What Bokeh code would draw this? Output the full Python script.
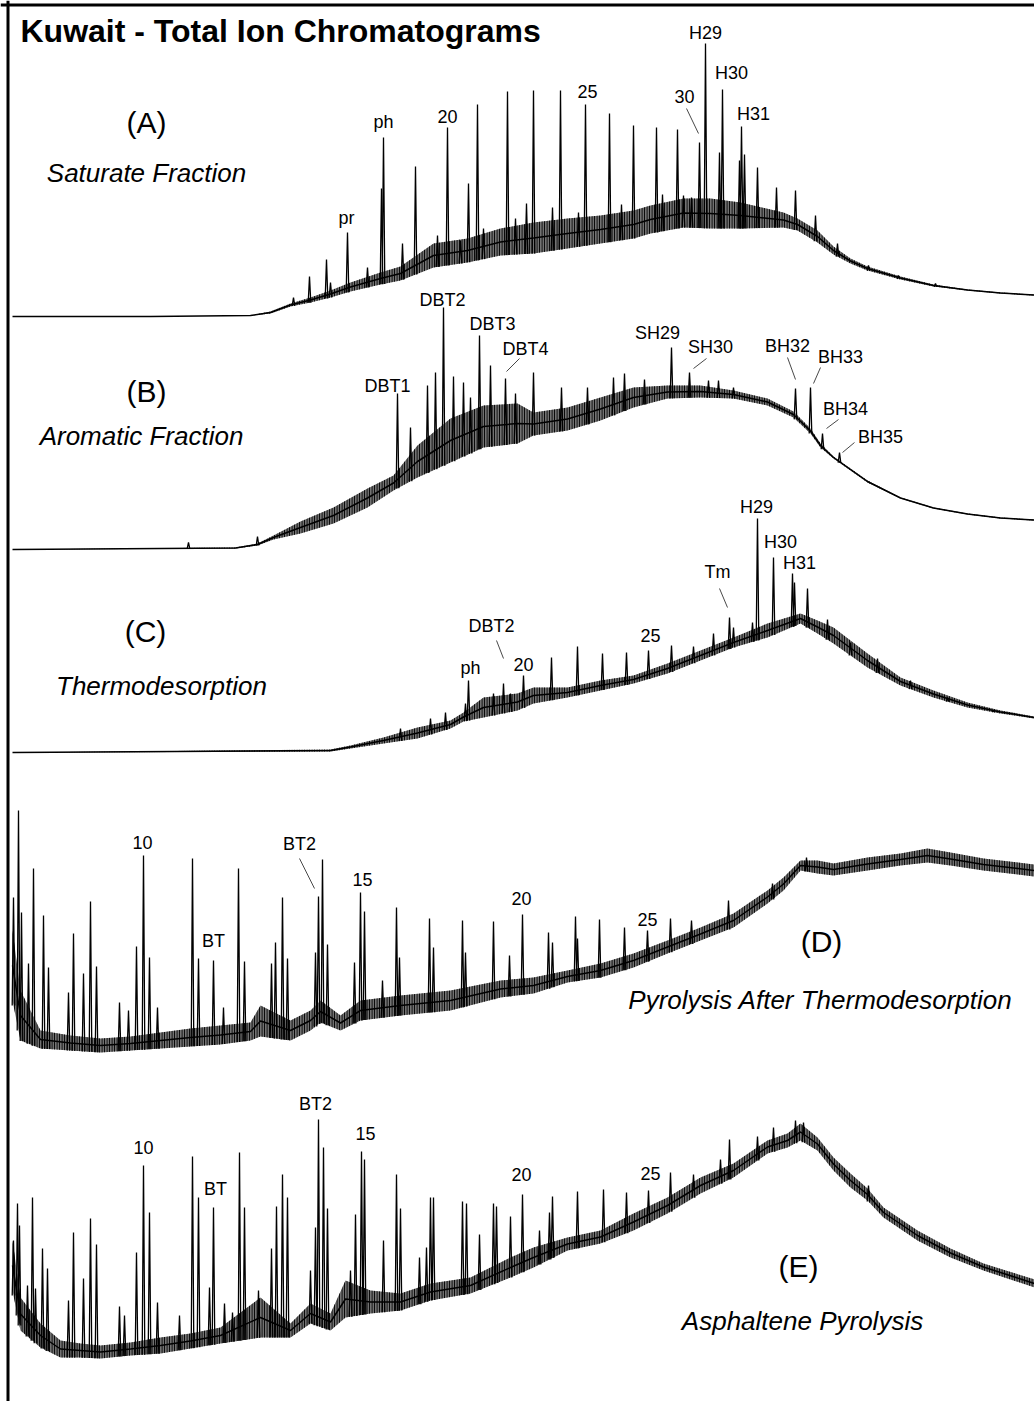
import numpy as np
from bokeh.plotting import figure
from bokeh.models import Range1d, Span, ColumnDataSource
from bokeh.core.properties import value
from bokeh.embed import file_html
from bokeh.resources import INLINE

# ---------------------------------------------------------------------------
# Data: x = scan number, y = TIC intensity (arb. units)
# Each trace = noise envelope (lo / hi) + list of resolved peaks (apex heights)
# ---------------------------------------------------------------------------

# (A) Saturate fraction
A_base_x = [0, 138, 238, 258, 278, 298, 318, 338, 368, 388, 421, 455, 488, 521, 555, 588, 621, 638, 671, 698,
            728, 771, 785, 805, 821, 838, 855, 888, 921, 955, 988, 1022]
A_base_lo = [0, 0, 1, 3, 10, 14, 19, 25, 32, 36, 49, 54, 61, 63, 68, 73, 78, 83, 89, 88,
             88, 89, 86, 74, 62, 53, 46, 37, 30, 26, 23, 21]
A_base_hi = [0, 0, 1, 5, 13, 19, 26, 34, 44, 50, 73, 78, 88, 94, 98, 101, 106, 111, 118, 118,
             114, 104, 98, 86, 70, 58, 50, 40, 32, 27, 24, 22]
A_peak_x = [281, 297, 314, 318, 335, 355, 369, 371, 390, 403, 425, 435, 448, 456, 465, 471, 495, 503, 514, 521,
            540, 548, 566, 573, 597, 609, 621, 644, 650, 665, 671, 679, 687, 693, 707, 710, 727, 729, 732, 745,
            764, 783, 803, 825, 856, 886, 923]
A_peak_y = [19, 40, 57, 34, 84, 49, 128, 179, 73, 150, 81, 189, 76, 133, 212, 88, 225, 98, 113, 226,
            109, 226, 104, 212, 203, 112, 191, 189, 122, 187, 121, 119, 174, 273, 164, 227, 156, 190, 162, 149,
            129, 126, 101, 73, 51, 41, 33]
A_tags = ["pr", "ph", "20", "25", "30", "H29", "H30", "H31"]

# (B) Aromatic fraction
B_base_x = [0, 223, 245, 261, 288, 321, 355, 381, 405, 438, 471, 505, 521, 555, 588, 621, 655, 688, 721, 755,
            781, 798, 808, 821, 838, 855, 888, 921, 955, 988, 1022]
B_base_lo = [0, 1, 4, 10, 16, 26, 42, 59, 72, 87, 102, 106, 114, 119, 129, 142, 151, 152, 151, 144,
             132, 116, 102, 91, 79, 67, 51, 41, 35, 31, 29]
B_base_hi = [0, 2, 6, 14, 28, 42, 61, 74, 104, 131, 144, 146, 137, 142, 152, 162, 164, 164, 159, 151,
             138, 121, 106, 93, 81, 69, 52, 42, 36, 32, 30]
B_peak_x = [176, 245, 385, 398, 415, 423, 431, 441, 451, 458, 467, 478, 493, 503, 521, 549, 575, 601, 612, 632,
            659, 677, 696, 706, 721, 783, 798, 810, 827]
B_peak_y = [7, 13, 156, 122, 164, 177, 242, 173, 167, 152, 214, 184, 171, 156, 177, 162, 162, 172, 176, 170,
            202, 177, 169, 169, 162, 161, 162, 116, 97]
B_tags = ["DBT1", "DBT2", "DBT3", "DBT4", "SH29", "SH30", "BH32", "BH33", "BH34", "BH35"]

# (C) Thermodesorption
C_base_x = [0, 318, 338, 371, 405, 438, 451, 471, 505, 521, 555, 588, 621, 655, 688, 721, 755, 788, 805, 821,
            855, 888, 921, 955, 988, 1022]
C_base_lo = [0, 1, 4, 9, 14, 24, 31, 35, 42, 49, 55, 62, 69, 79, 92, 105, 115, 129, 119, 109,
             85, 67, 55, 45, 39, 34]
C_base_hi = [0, 3, 7, 15, 25, 32, 40, 55, 59, 65, 65, 72, 77, 89, 102, 115, 129, 139, 132, 125,
             99, 75, 62, 50, 42, 36]
C_peak_x = [388, 418, 433, 453, 456, 481, 491, 498, 511, 539, 565, 590, 614, 636, 659, 681, 701, 717, 721, 740,
            745, 761, 780, 782, 795, 815, 838, 865, 898, 935, 981]
C_peak_y = [24, 34, 40, 49, 72, 59, 69, 59, 77, 95, 106, 99, 100, 102, 107, 106, 119, 135, 125, 130,
            234, 195, 179, 170, 164, 133, 110, 94, 72, 55, 42]
C_tags = ["ph", "DBT2", "20", "25", "Tm", "H29", "H30", "H31"]

# (D) Pyrolysis after thermodesorption
D_base_x = [0, 8, 28, 58, 88, 118, 148, 178, 208, 238, 248, 278, 298, 308, 328, 348, 388, 438, 488, 521,
            555, 588, 621, 655, 688, 721, 755, 771, 788, 805, 821, 855, 888, 915, 938, 971, 1022]
D_base_lo = [60, 20, 12, 10, 8, 10, 12, 14, 16, 20, 24, 20, 30, 38, 30, 40, 45, 50, 63, 67,
             78, 83, 93, 107, 120, 133, 157, 170, 190, 187, 185, 190, 195, 198, 195, 190, 184]
D_base_hi = [130, 70, 30, 25, 22, 24, 28, 32, 35, 38, 55, 40, 50, 60, 45, 60, 65, 70, 80, 83,
             90, 97, 107, 120, 133, 147, 170, 183, 200, 200, 197, 203, 207, 212, 208, 202, 196]
D_peak_x = [1, 6, 9, 16, 21, 31, 36, 56, 61, 71, 78, 84, 107, 116, 124, 131, 137, 145, 180, 186,
            201, 211, 226, 232, 259, 263, 270, 275, 303, 306, 310, 315, 342, 348, 352, 370, 384, 387, 417, 421,
            450, 453, 481, 497, 510, 536, 540, 563, 565, 587, 612, 635, 658, 679, 716, 760, 794]
D_peak_y = [163, 250, 148, 97, 192, 145, 93, 68, 127, 87, 159, 94, 58, 50, 114, 205, 103, 53, 202, 102,
            100, 53, 192, 99, 97, 118, 163, 102, 108, 164, 201, 116, 98, 168, 149, 80, 153, 103, 142, 113,
            140, 108, 139, 105, 146, 128, 118, 144, 122, 141, 133, 130, 142, 140, 160, 177, 203]
D_tags = ["10", "BT", "BT2", "15", "20", "25"]

# (E) Asphaltene pyrolysis
E_base_x = [0, 8, 28, 48, 68, 88, 118, 148, 178, 208, 248, 278, 298, 318, 333, 358, 388, 418, 458, 498,
            521, 555, 588, 621, 655, 688, 721, 755, 775, 788, 805, 821, 838, 855, 871, 905, 938, 971, 1022]
E_base_lo = [75, 35, 18, 8, 8, 7, 10, 12, 17, 22, 28, 28, 42, 35, 48, 52, 55, 65, 72, 88,
             98, 115, 122, 135, 152, 172, 188, 212, 218, 225, 215, 195, 178, 165, 148, 125, 108, 95, 78]
E_base_hi = [125, 68, 42, 25, 22, 20, 23, 28, 32, 38, 68, 42, 62, 52, 85, 75, 72, 82, 88, 108,
             118, 128, 135, 152, 168, 188, 202, 225, 232, 242, 228, 208, 192, 177, 158, 135, 117, 102, 86]
E_peak_x = [1, 5, 7, 15, 20, 23, 30, 35, 56, 61, 71, 78, 84, 107, 112, 124, 131, 137, 145, 167,
            180, 186, 197, 201, 212, 220, 227, 232, 246, 259, 264, 270, 275, 298, 303, 306, 311, 315, 338, 343,
            349, 352, 371, 384, 388, 407, 414, 418, 421, 450, 454, 467, 481, 484, 498, 510, 527, 537, 540, 565,
            591, 614, 636, 658, 681, 708, 717, 745, 761, 783, 791, 856]
E_peak_y = [125, 162, 140, 80, 168, 77, 117, 97, 65, 133, 87, 147, 121, 59, 50, 113, 200, 153, 63, 50,
            209, 168, 78, 158, 62, 53, 213, 158, 75, 117, 159, 191, 168, 95, 138, 246, 218, 157, 95, 151,
            214, 206, 125, 191, 157, 108, 118, 168, 168, 164, 162, 131, 162, 159, 149, 171, 135, 153, 169, 174,
            176, 173, 175, 193, 191, 206, 226, 229, 238, 245, 243, 180]
E_tags = ["10", "BT", "BT2", "15", "20", "25"]

TITLE = "Kuwait - Total Ion Chromatograms"
PANEL_IDS = ["(A)", "(B)", "(C)", "(D)", "(E)"]
PANEL_NAMES = ["Saturate Fraction", "Aromatic Fraction", "Thermodesorption",
               "Pyrolysis After Thermodesorption", "Asphaltene Pyrolysis"]

# ---------------------------------------------------------------------------
# Layout (positions in each panel's own data units)
# ---------------------------------------------------------------------------
W, H = 1034, 1401
FONT = value("Liberation Sans")

panels = [
    dict(key="A", zero=316, bx=A_base_x, lo=A_base_lo, hi=A_base_hi, px=A_peak_x, py=A_peak_y,
         tags=A_tags,
         tag_pos=[(334, 99), (371, 195), (435, 200), (575, 225), (672, 220), (693, 284), (719, 244), (741, 203)],
         leaders=[(674, 208, 686, 183)],
         id_pos=(134, 194), name_pos=(134, 144)),
    dict(key="B", zero=549, bx=B_base_x, lo=B_base_lo, hi=B_base_hi, px=B_peak_x, py=B_peak_y,
         tags=B_tags,
         tag_pos=[(375, 164), (430, 250), (480, 226), (513, 201), (645, 217), (698, 203), (775, 204),
                  (828, 193), (833, 141), (868, 113)],
         leaders=[(507, 191, 494, 178), (694, 191, 681, 181), (775, 192, 783, 170), (808, 182, 801, 166),
                  (826, 130, 814, 121), (842, 107, 830, 97)],
         id_pos=(134, 158), name_pos=(129, 114)),
    dict(key="C", zero=752, bx=C_base_x, lo=C_base_lo, hi=C_base_hi, px=C_peak_x, py=C_peak_y,
         tags=C_tags,
         tag_pos=[(458, 85), (479, 127), (511, 88), (638, 117), (705, 181), (744, 246), (768, 211), (787, 190)],
         leaders=[(484, 112, 491, 94), (707, 164, 715, 145)],
         id_pos=(133, 121), name_pos=(149, 67)),
    dict(key="D", zero=1060, bx=D_base_x, lo=D_base_lo, hi=D_base_hi, px=D_peak_x, py=D_peak_y,
         tags=D_tags,
         tag_pos=[(130, 218), (201, 120), (287, 217), (350, 181), (509, 162), (635, 141)],
         leaders=[(287, 202, 302, 172)],
         id_pos=(809, 119), name_pos=(808, 61)),
    dict(key="E", zero=1365, bx=E_base_x, lo=E_base_lo, hi=E_base_hi, px=E_peak_x, py=E_peak_y,
         tags=E_tags,
         tag_pos=[(131, 218), (203, 177), (303, 262), (353, 232), (509, 191), (638, 192)],
         leaders=[],
         id_pos=(786, 99), name_pos=(790, 45)),
]

p = figure(width=W, height=H, output_backend="svg", toolbar_location=None,
           x_range=Range1d(-12, 1022), y_range=Range1d(0, 1),
           x_axis_location=None, y_axis_location=None, min_border=0,
           outline_line_color=None, background_fill_color="white", border_fill_color="white")
p.grid.grid_line_color = None

for i, pn in enumerate(panels):
    k = pn["key"]
    p.extra_y_ranges[k] = Range1d(start=pn["zero"] - H, end=pn["zero"])
    bx = np.array(pn["bx"], dtype=float)
    lo = np.array(pn["lo"], dtype=float)
    hi = np.array(pn["hi"], dtype=float)
    src = ColumnDataSource(dict(x=bx, lo=lo, hi=hi, mid=(lo + hi) / 2))
    p.varea(x="x", y1="lo", y2="hi", source=src, y_range_name=k,
            fill_color="black", fill_alpha=0.55,
            hatch_pattern="vertical_line", hatch_color="black", hatch_scale=2.5, hatch_weight=1.2)
    p.line("x", "mid", source=src, y_range_name=k, line_color="black", line_width=1.5)

    pkx = np.array(pn["px"], dtype=float)
    pky = np.array(pn["py"], dtype=float)
    foot = np.interp(pkx, bx, lo)
    xs = [[x - 1.3, x, x + 1.3] for x in pkx]
    ys = [[f, t, f] for f, t in zip(foot, pky)]
    p.multi_line(xs=xs, ys=ys, y_range_name=k, line_color="black", line_width=1.3)

    tx = [t[0] for t in pn["tag_pos"]]
    ty = [t[1] for t in pn["tag_pos"]]
    p.text(x=tx, y=ty, text=pn["tags"], y_range_name=k, text_font=FONT, text_font_size="18px",
           text_align="center", text_baseline="middle", text_color="black")
    if pn["leaders"]:
        L = np.array(pn["leaders"], dtype=float)
        p.segment(x0=L[:, 0], y0=L[:, 1], x1=L[:, 2], y1=L[:, 3], y_range_name=k,
                  line_color="#333333", line_width=0.9)

    p.text(x=[pn["id_pos"][0]], y=[pn["id_pos"][1]], text=[PANEL_IDS[i]], y_range_name=k,
           text_font=FONT, text_font_size="30px", text_align="center", text_baseline="middle",
           text_color="black")
    p.text(x=[pn["name_pos"][0]], y=[pn["name_pos"][1]], text=[PANEL_NAMES[i]], y_range_name=k,
           text_font=FONT, text_font_size="26px", text_font_style="italic",
           text_align="center", text_baseline="middle", text_color="black")

# title
p.text(x=[8], y=[286], text=[TITLE], y_range_name="A", text_font=FONT, text_font_size="32px",
       text_font_style="bold", text_align="left", text_baseline="middle", text_color="black")

# frame lines (left and top)
p.add_layout(Span(location=-4.5, dimension="height", line_color="black", line_width=3))
p.add_layout(Span(location=311.5, dimension="width", line_color="black", line_width=3, y_range_name="A"))

open("out.html", "w").write(file_html(p, INLINE))
